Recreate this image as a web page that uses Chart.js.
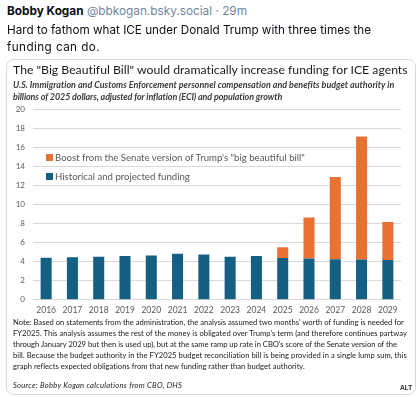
<!DOCTYPE html>
<html>
<head>
<meta charset="utf-8">
<script src="https://cdn.jsdelivr.net/npm/chart.js@4"></script>
<style>
  body { margin: 0; width: 418px; height: 397px; background: #fff; position: relative; overflow: hidden; font-family: Inter, sans-serif; }
  .ligne { position: absolute; white-space: nowrap; }
  .head b { color: #0b0f14; }
  .head span { color: #6f869f; font-weight: normal; }
  .post { color: #0b0f14; }
  .card { position: absolute; left: 6px; top: 59px; width: 408px; height: 334px; border: 1px solid #d4dbe2; border-radius: 8px; }
  .titre { font-family: Lato, sans-serif; color: #1a1a1a; }
  .sous { font-family: Lato, sans-serif; font-style: italic; font-weight: bold; color: #3a3a3a; }
  #cadre { position: absolute; left: 8px; top: 103px; width: 400px; height: 215px; }
  .legende { font-family: Lato, sans-serif; color: #595959; }
  .legende i { position: absolute; left: -9px; top: 50%; margin-top: -3.5px; width: 7px; height: 7px; }
  .note { font-family: Lato, sans-serif; color: #1a1a1a; }
  .source { font-family: Lato, sans-serif; font-style: italic; color: #1a1a1a; }
  .alt { position: absolute; left: 400px; top: 384px; font-size: 6.5px; font-weight: bold; color: #333; }
</style>
</head>
<body>
<div class="card"></div>
<div id="cadre"><canvas id="graphique"></canvas></div>
<div id="textes"></div>
<div class="alt">ALT</div>

<script>
const annees = ['2016', '2017', '2018', '2019', '2020', '2021', '2022', '2023', '2024', '2025', '2026', '2027', '2028', '2029'];
const historique = [4.42, 4.49, 4.53, 4.6, 4.67, 4.85, 4.78, 4.53, 4.6, 4.39, 4.35, 4.28, 4.25, 4.18];
const boost = [null, null, null, null, null, null, null, null, null, 1.13, 4.32, 8.64, 12.95, 4.0];
const ticksY = [0, 2, 4, 6, 8, 10, 12, 14, 16, 18, 20];

const bleu = '#156082';
const orange = '#e97132';

// textes : [classe, html, x, y centre, largeur cible, groupe]
const textes = [
  ['head', '<b>Bobby Kogan</b> <span>@bbkogan.bsky.social · 29m</span>', 7, 12, 240, 'h'],
  ['post', 'Hard to fathom what ICE under Donald Trump with three times the', 7, 31, 364, 'p'],
  ['post', 'funding can do.', 7, 48, 93, 'p'],
  ['titre', 'The "Big Beautiful Bill" would dramatically increase funding for ICE agents', 13, 70, 395, 't'],
  ['sous', 'U.S. Immigration and Customs Enforcement personnel compensation and benefits budget authority in', 13, 85, 381, 's'],
  ['sous', 'billions of 2025 dollars, adjusted for inflation (ECI) and population growth', 13, 97, 269, 's'],
  ['note', 'Note: Based on statements from the administration, the analysis assumed two months\' worth of funding is needed for', 13, 323, 391, 'n'],
  ['note', 'FY2025. This analysis assumes the rest of the money is obligated over Trump\'s term (and therefore continues partway', 13, 334, 394, 'n'],
  ['note', 'through January 2029 but then is used up), but at the same ramp up rate in CBO\'s score of the Senate version of the', 13, 345, 384, 'n'],
  ['note', 'bill. Because the budget authority in the FY2025 budget reconciliation bill is being provided in a single lump sum, this', 13, 356, 394, 'n'],
  ['note', 'graph reflects expected obligations from that new funding rather than budget authority.', 13, 367, 292, 'n'],
  ['source', 'Source: Bobby Kogan calculations from CBO, DHS', 13, 386, 169, 'n']
];

const conteneur = document.getElementById('textes');
const groupes = {};
textes.forEach(([classe, html, x, y, cible, groupe]) => {
  const el = document.createElement('div');
  el.className = 'ligne ' + classe;
  el.innerHTML = html;
  el.style.left = x + 'px';
  el.style.fontSize = '12px';
  el.style.lineHeight = '1';
  conteneur.appendChild(el);
  (groupes[groupe] = groupes[groupe] || []).push({ el, y, cible });
});

// taille de police tiree de la premiere ligne du groupe, puis espacement pour les autres
Object.values(groupes).forEach(lignes => {
  const w0 = lignes[0].el.getBoundingClientRect().width;
  const taille = 12 * lignes[0].cible / w0;
  lignes.forEach(l => {
    l.el.style.fontSize = taille + 'px';
    const w = l.el.getBoundingClientRect().width;
    const n = l.el.textContent.length;
    l.el.style.letterSpacing = ((l.cible - w) / n) + 'px';
    const h = l.el.getBoundingClientRect().height;
    l.el.style.top = (l.y - h / 2) + 'px';
  });
});

const cadre = document.getElementById('cadre');
const ctx = document.getElementById('graphique').getContext('2d');

const graphique = new Chart(ctx, {
  type: 'bar',
  data: {
    labels: annees,
    datasets: [
      {
        label: 'Historical and projected funding',
        data: historique,
        backgroundColor: bleu,
        categoryPercentage: 1,
        barPercentage: 0.42
      },
      {
        label: 'Boost from the Senate version of Trump\'s "big beautiful bill"',
        data: boost,
        backgroundColor: orange,
        categoryPercentage: 1,
        barPercentage: 0.42
      }
    ]
  },
  options: {
    responsive: true,
    maintainAspectRatio: false,
    animation: false,
    layout: { padding: { top: 0, right: 7, left: 0, bottom: 0 } },
    plugins: {
      legend: { display: false },
      tooltip: { enabled: false }
    },
    scales: {
      x: {
        stacked: true,
        grid: { display: false, drawTicks: false },
        border: { display: false },
        ticks: { color: '#595959', font: { family: 'Lato', size: 8.5 }, padding: 5, maxRotation: 0, autoSkip: false }
      },
      y: {
        stacked: true,
        min: 0,
        max: 20,
        afterBuildTicks: s => { s.ticks = ticksY.map(v => ({ value: v })); },
        grid: { color: '#d9d9d9', lineWidth: 1, drawTicks: false },
        border: { display: false },
        ticks: { color: '#595959', font: { family: 'Lato', size: 8 }, padding: 8 },
        afterFit: s => { s.width = 25; }
      }
    }
  }
});

// recaler le cadre pour que la zone du graphique aille de y=110 a y=300
const zone = graphique.chartArea;
const hautCadre = cadre.clientHeight;
cadre.style.top = (110 - zone.top) + 'px';
cadre.style.height = (190 + zone.top + (hautCadre - zone.bottom)) + 'px';
graphique.resize();

// legende en HTML dans la zone du graphique, ordre inverse comme dans l'original
graphique.data.datasets.slice().reverse().forEach((ds, i) => {
  const el = document.createElement('div');
  el.className = 'ligne legende';
  el.style.left = '55px';
  el.style.fontSize = '9.6px';
  el.innerHTML = `<i style="background:${ds.backgroundColor}"></i>${ds.label}`;
  conteneur.appendChild(el);
  const h = el.getBoundingClientRect().height;
  el.style.top = (157 + i * 19 - h / 2) + 'px';
});
</script>
</body>
</html>
